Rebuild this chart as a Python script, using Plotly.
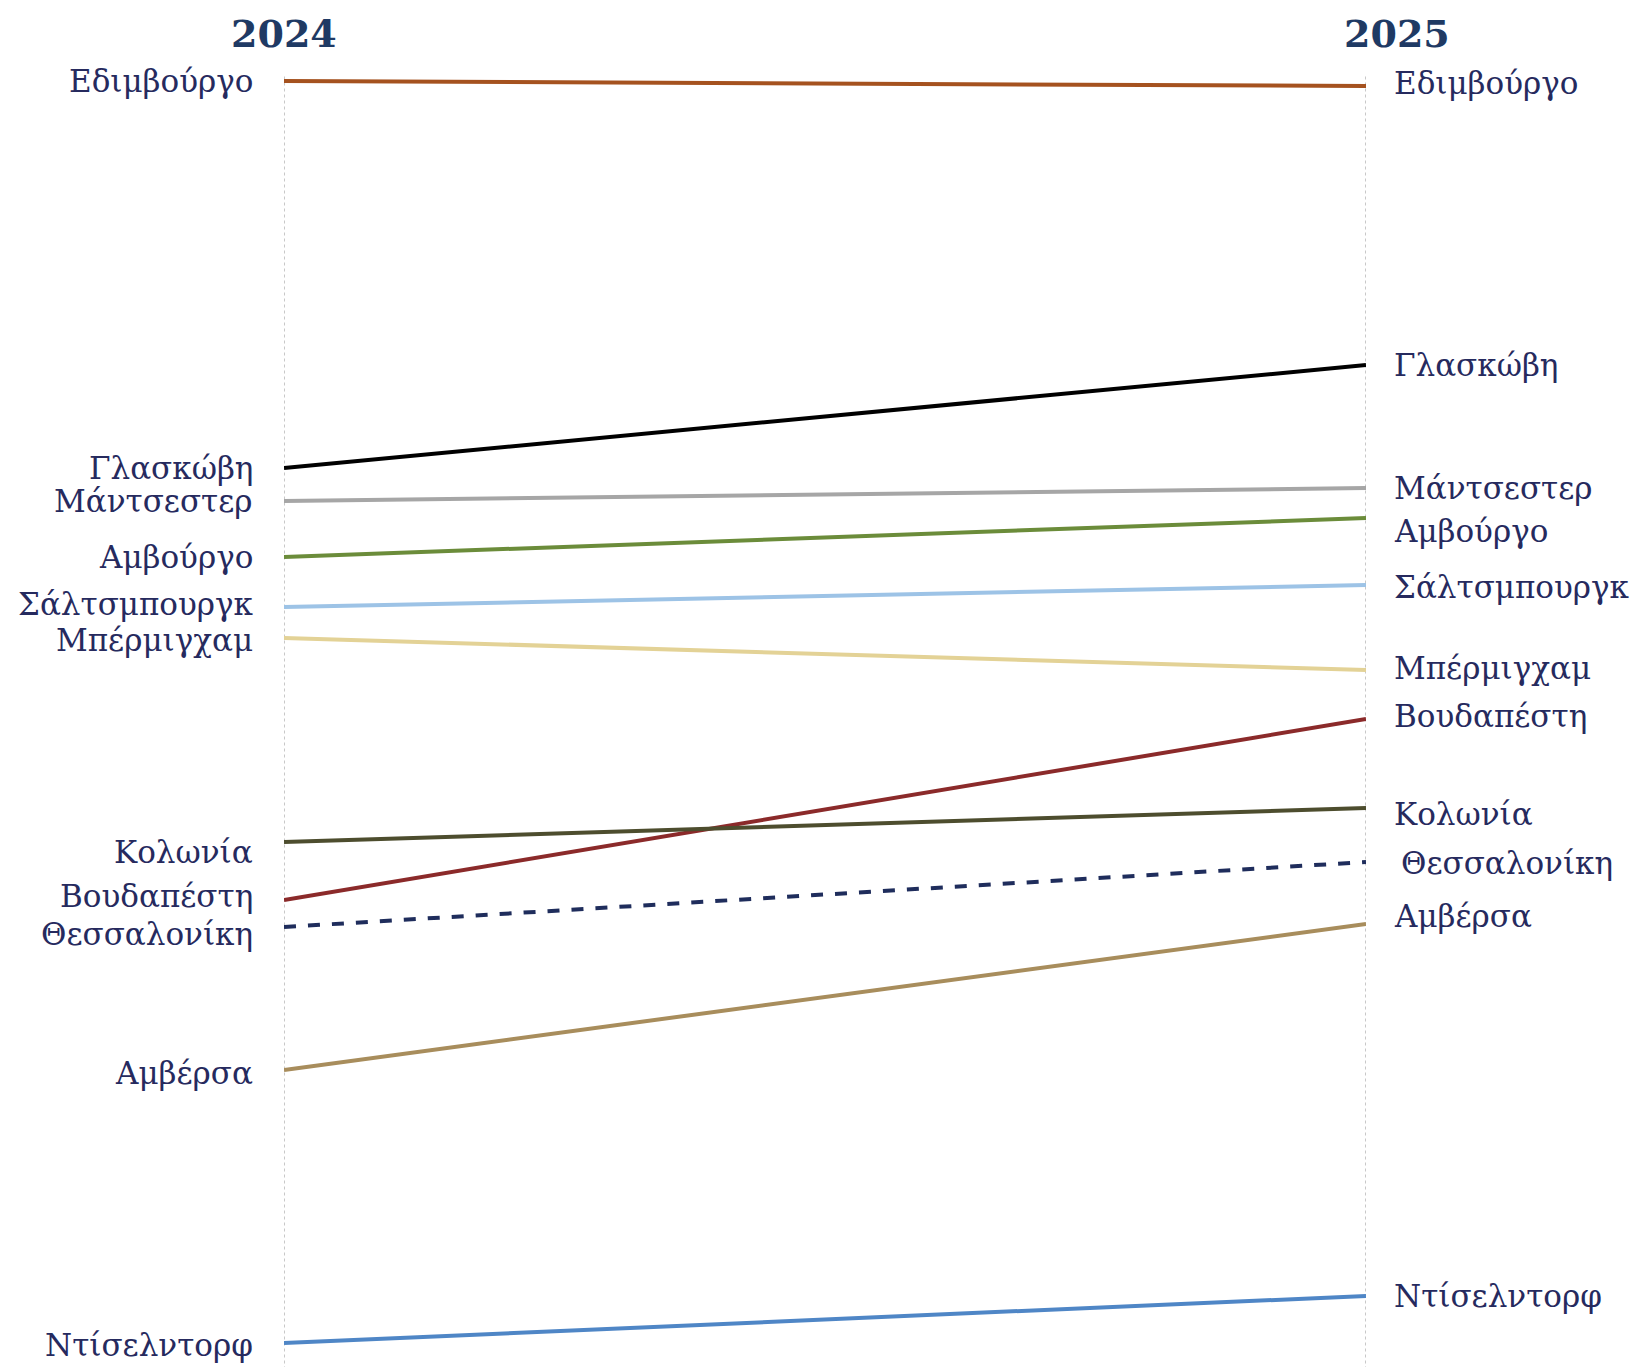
import plotly.graph_objects as go

cities = ["Εδιμβούργο", "Γλασκώβη", "Μάντσεστερ", "Αμβούργο", "Σάλτσμπουργκ",
          "Μπέρμιγχαμ", "Βουδαπέστη", "Κολωνία", "Θεσσαλονίκη", "Αμβέρσα", "Ντίσελντορφ"]
years = ["2024", "2025"]
v2024 = [129.9, 91.2, 87.9, 82.3, 77.3, 74.2, 48.0, 53.8, 45.3, 31.0, 3.7]
v2025 = [129.4, 101.5, 89.2, 86.2, 79.5, 71.0, 66.1, 57.2, 51.8, 45.6, 8.4]

colors = ["#a5521f", "#000000", "#a6a6a6", "#6b8c3a", "#9dc3e6",
          "#e3d296", "#8b2a2a", "#4d4d2e", "#1f2d5c", "#a88d5c", "#4f86c6"]
dashes = ["solid"] * 8 + ["dash"] + ["solid"] * 2

# label nudges (pixels, positive = up) to avoid overlaps
left_shift = [0, 0, 0, 0, 3, -2, 4, -10, -7, -3, -2]
right_shift = [3, 0, 0, -13, -2, 2, 3, -6, -1, 8, 0]
right_xshift = [26, 26, 26, 26, 26, 26, 26, 26, 33, 26, 26]

fig = go.Figure()
for i, c in enumerate(cities):
    fig.add_trace(go.Scatter(
        x=[0, 1], y=[v2024[i], v2025[i]], mode="lines",
        line=dict(color=colors[i], width=4, dash=dashes[i]),
        name=c, showlegend=False, hoverinfo="skip"))

label_font = dict(family="DejaVu Serif", size=31, color="#262a5e")
ann = []
for i, c in enumerate(cities):
    ann.append(dict(x=0, y=v2024[i], xref="x", yref="y", text=c, showarrow=False,
                    xanchor="right", yanchor="middle", xshift=-29, yshift=left_shift[i],
                    font=label_font))
    ann.append(dict(x=1, y=v2025[i], xref="x", yref="y", text=c, showarrow=False,
                    xanchor="left", yanchor="middle", xshift=right_xshift[i], yshift=right_shift[i],
                    font=label_font))
title_font = dict(family="DejaVu Serif", size=38, color="#1f3a64")
ann.append(dict(x=0, y=1, xref="x", yref="paper", text="<b>" + years[0] + "</b>", showarrow=False,
                xanchor="center", yanchor="middle", yshift=41, font=title_font))
ann.append(dict(x=1, y=1, xref="x", yref="paper", text="<b>" + years[1] + "</b>", showarrow=False,
                xanchor="center", yanchor="middle", yshift=41, xshift=31, font=title_font))

shapes = []
for xv in [0, 1]:
    shapes.append(dict(type="line", x0=xv, x1=xv, xref="x", yref="paper", y0=-0.02, y1=1.0,
                       line=dict(color="#c8c8c8", width=2, dash="dot"), layer="below"))

fig.update_layout(
    width=1625, height=1359,
    margin=dict(l=276, r=267, t=66, b=17),
    paper_bgcolor="white", plot_bgcolor="white",
    xaxis=dict(range=[0, 1], visible=False, fixedrange=True),
    yaxis=dict(range=[3.0, 130.6], visible=False, fixedrange=True),
    annotations=ann, shapes=shapes,
)
fig.write_html("out.html")
